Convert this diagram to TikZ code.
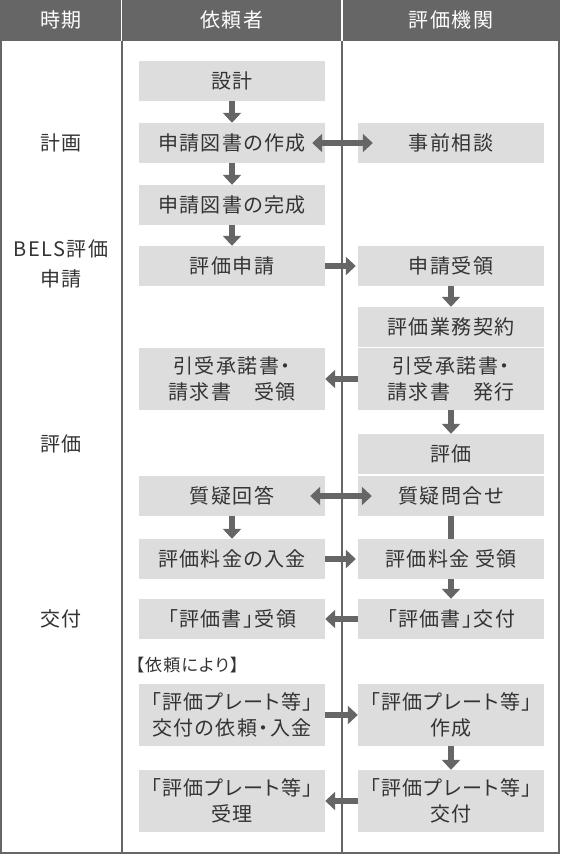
\documentclass[tikz,border=0pt]{standalone}
\usepackage{fontspec}
\setmainfont{Noto Sans CJK JP}[LetterSpace=7,RawFeature=+palt]
\usetikzlibrary{arrows.meta,positioning}
\definecolor{hdrgray}{HTML}{666666}
\definecolor{boxgray}{HTML}{DDDDDD}
\definecolor{txtgray}{HTML}{333333}

\begin{document}
\begin{tikzpicture}[
			x = 1pt, y = -1pt,
			box/.style = {fill=boxgray,text=txtgray,minimum width=186pt,minimum height=40pt,inner sep=0pt,align=center,font=\fontsize{20}{26}\selectfont},
			tallbox/.style = {box,minimum height=62pt},
			period/.style = {text=txtgray,align=center,font=\fontsize{20}{30}\selectfont},
			head/.style = {text=white,font=\fontsize{20}{20}\selectfont},
			flow/.style = {draw=hdrgray,line width=5.5pt,-{Triangle[length=10pt,width=18pt]}},
			both/.style = {flow,{Triangle[length=10pt,width=18pt]}-{Triangle[length=10pt,width=18pt]}},
			link/.style = {draw=hdrgray,line width=5.5pt}
			]

			\useasboundingbox (0,0) rectangle (560,854);
			\fill[white] (0,0) rectangle (560,854);

			% header and frame
			\fill[hdrgray] (0,0) rectangle (560,41);
			\draw[white,line width=1.5pt] (121.5,0) -- (121.5,41) (342,0) -- (342,41);
			\draw[hdrgray,line width=2pt] (121.5,41) -- (121.5,853) (342,41) -- (342,853);
			\draw[hdrgray,line width=2pt] (1,41) -- (1,853) -- (559,853) -- (559,41);

			\node[head] (hjiki) at (61,20) {時期};
			\node[head] (hirai) at (232,20) {依頼者};
			\node[head] (hkikan) at (451,20) {評価機関};

			% periods
			\node[period] (keikaku) at (61,143) {計画};
			\node[period] (bels) at (61,264) {BELS評価\\申請};
			\node[period] (phyoka) at (61,444) {評価};
			\node[period] (pkofu) at (61,619) {交付};

			% boxes
			\node[box] (sekkei) at (232,81) {設計};
			\node[box] (sakusei) at (232,143) {申請図書の作成};
			\node[box] (jizen) at (451,143) {事前相談};
			\node[box] (kansei) at (232,205) {申請図書の完成};
			\node[box] (shinsei) at (232,266) {評価申請};
			\node[box] (juryo) at (451,266) {申請受領};
			\node[box] (keiyaku) at (451,327) {評価業務契約};
			\node[tallbox] (hikiuke) at (232,379) {引受承諾書・\\請求書　受領};
			\node[tallbox] (hakko) at (451,379) {引受承諾書・\\請求書　発行};
			\node[box] (hyoka) at (451,454) {評価};
			\node[box] (kaito) at (232,496) {質疑回答};
			\node[box] (toiawase) at (451,496) {質疑問合せ};
			\node[box] (nyukin) at (232,559) {評価料金の入金};
			\node[box] (ryokin) at (451,559) {評価料金 受領};
			\node[box] (shojuryo) at (232,619) {「評価書」受領};
			\node[box] (shokofu) at (451,619) {「評価書」交付};
			\node[anchor=west,text=txtgray,font=\fontsize{17}{18}\selectfont] (irai) at (132,665) {【依頼により】};
			\node[tallbox] (plirai) at (232,715) {「評価プレート等」\\交付の依頼・入金};
			\node[tallbox] (plsakusei) at (451,715) {「評価プレート等」\\作成};
			\node[tallbox] (plkofu) at (451,801) {「評価プレート等」\\交付};
			\node[tallbox] (pljuri) at (232,801) {「評価プレート等」\\受理};

			% connectors
			\draw[flow] (sekkei) -- (sakusei);
			\draw[flow] (sakusei) -- (kansei);
			\draw[flow] (kansei) -- (shinsei);
			\draw[both,shorten <=-13pt,shorten >=-15pt] (sakusei) -- (jizen);
			\draw[flow,shorten >=2pt] (shinsei) -- (juryo);
			\draw[flow] (juryo) -- (keiyaku);
			\draw[flow] (hakko) -- (hikiuke);
			\draw[flow] (hakko) -- (hyoka);
			\draw[both,shorten <=-15pt,shorten >=-14pt] (kaito) -- (toiawase);
			\draw[link] (toiawase) -- (ryokin);
			\draw[flow] (kaito) -- (nyukin);
			\draw[flow,shorten >=2pt] (nyukin) -- (ryokin);
			\draw[flow] (ryokin) -- (shokofu);
			\draw[flow] (shokofu) -- (shojuryo);
			\draw[flow] (plirai) -- (plsakusei);
			\draw[flow] (plsakusei) -- (plkofu);
			\draw[flow] (plkofu) -- (pljuri);

		\end{tikzpicture}
\end{document}
